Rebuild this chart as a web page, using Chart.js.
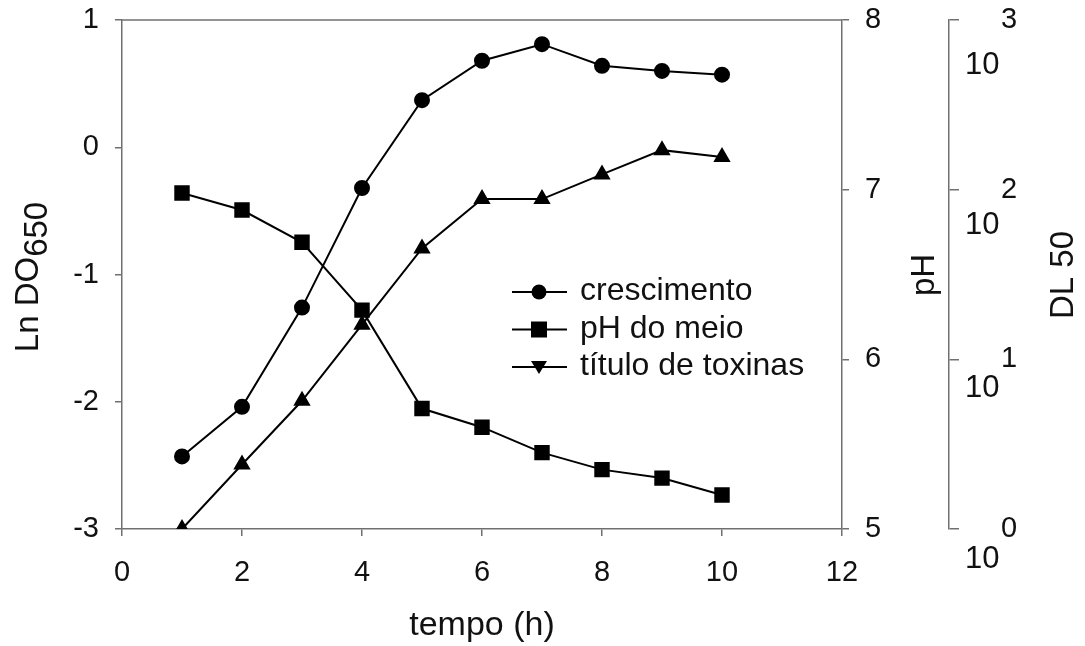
<!DOCTYPE html>
<html>
<head>
<meta charset="utf-8">
<script src="https://cdn.jsdelivr.net/npm/chart.js@4.4.1/dist/chart.umd.min.js"></script>
<style>
  html, body { margin: 0; padding: 0; background: #fff; }
  #wrap { width: 1085px; height: 646px; }
</style>
</head>
<body>
<div id="wrap"><canvas id="grafico" width="1085" height="646"></canvas></div>
<script>
const tempo = [1, 2, 3, 4, 5, 6, 7, 8, 9, 10];
const crescimento = [-2.43, -2.04, -1.26, -0.32, 0.37, 0.68, 0.81, 0.64, 0.60, 0.57];
const phMeio = [6.98, 6.88, 6.69, 6.29, 5.71, 5.60, 5.45, 5.35, 5.30, 5.20];
const toxinas = [1, 2.4, 5.7, 16, 45, 88, 88, 123, 171, 156];
const potencias = [1, 10, 100, 1000];

const FONTE = "'Liberation Sans', Arial, sans-serif";
const CINZA = '#707070';
const TEXTO = '#111';

function pontos(valores) {
  return tempo.map((t, i) => ({ x: t, y: valores[i] }));
}

function textoVertical(ctx, partes, cx, cy) {
  // partes: [texto, deslocamento da linha de base]
  const larguras = partes.map(p => ctx.measureText(p[0]).width);
  const total = larguras.reduce((a, b) => a + b, 0);
  ctx.save();
  ctx.translate(cx, cy);
  ctx.rotate(-Math.PI / 2);
  let x = -total / 2;
  partes.forEach((p, i) => {
    ctx.fillText(p[0], x, p[1]);
    x += larguras[i];
  });
  ctx.restore();
}

// eixos verticais sem folga extra em cima/embaixo
function semFolga(largura) {
  return s => {
    s.width = largura;
    s.paddingTop = 0;
    s.paddingBottom = 0;
  };
}

// moldura, títulos dos eixos, legenda e rótulos 10^n
const extras = {
  id: 'extras',
  afterDraw(chart) {
    const ctx = chart.ctx;
    const area = chart.chartArea;
    ctx.save();

    ctx.strokeStyle = CINZA;
    ctx.lineWidth = 1.5;
    ctx.beginPath();
    ctx.moveTo(area.left, area.top);
    ctx.lineTo(area.right, area.top);
    ctx.stroke();

    ctx.fillStyle = TEXTO;
    ctx.font = '33px ' + FONTE;
    ctx.textAlign = 'left';
    ctx.textBaseline = 'alphabetic';
    textoVertical(ctx, [['Ln DO', 0], ['650', 9]], 38, 277);
    textoVertical(ctx, [['pH', 0]], 934, 275);
    textoVertical(ctx, [['DL 50', 0]], 1073, 275);

    // rótulos do eixo DL 50
    const dl = chart.scales.yDL;
    const desloc = [30, 29, 36, 45];
    ctx.textBaseline = 'middle';
    potencias.forEach((v, i) => {
      const py = dl.getPixelForValue(v);
      ctx.font = '29px ' + FONTE;
      ctx.fillText(String(Math.round(Math.log10(v))), 1001, py);
      ctx.font = '31px ' + FONTE;
      ctx.fillText('10', 965, py + desloc[i]);
    });

    // legenda
    const itens = [
      { texto: 'crescimento', forma: 'circulo' },
      { texto: 'pH do meio', forma: 'quadrado' },
      { texto: 'título de toxinas', forma: 'triangulo' }
    ];
    ctx.font = '32px ' + FONTE;
    ctx.textBaseline = 'alphabetic';
    itens.forEach((it, i) => {
      const y = 292 + i * 37.5;
      ctx.strokeStyle = '#000';
      ctx.lineWidth = 2;
      ctx.beginPath();
      ctx.moveTo(512, y);
      ctx.lineTo(567, y);
      ctx.stroke();
      ctx.fillStyle = '#000';
      ctx.beginPath();
      if (it.forma === 'circulo') {
        ctx.arc(539, y, 7.5, 0, Math.PI * 2);
      } else if (it.forma === 'quadrado') {
        ctx.rect(531, y - 8, 16, 16);
      } else {
        ctx.moveTo(531, y - 6);
        ctx.lineTo(547, y - 6);
        ctx.lineTo(539, y + 7);
        ctx.closePath();
      }
      ctx.fill();
      ctx.fillStyle = TEXTO;
      ctx.fillText(it.texto, 580, y + 8);
    });
    ctx.restore();
  }
};

const fonteTicks = { family: FONTE, size: 29 };

new Chart(document.getElementById('grafico'), {
  type: 'line',
  data: {
    datasets: [
      {
        label: 'crescimento',
        data: pontos(crescimento),
        yAxisID: 'y',
        borderColor: '#000',
        backgroundColor: '#000',
        borderWidth: 2,
        pointStyle: 'circle',
        pointRadius: 7,
        tension: 0
      },
      {
        label: 'pH do meio',
        data: pontos(phMeio),
        yAxisID: 'yPH',
        borderColor: '#000',
        backgroundColor: '#000',
        borderWidth: 2,
        pointStyle: 'rect',
        pointRadius: 9.5,
        tension: 0
      },
      {
        label: 'título de toxinas',
        data: pontos(toxinas),
        yAxisID: 'yDL',
        borderColor: '#000',
        backgroundColor: '#000',
        borderWidth: 2,
        pointStyle: 'triangle',
        pointRadius: 8,
        tension: 0
      }
    ]
  },
  options: {
    responsive: false,
    animation: false,
    layout: { padding: { top: 20, left: 0, right: 0, bottom: 0 } },
    plugins: {
      legend: { display: false },
      tooltip: { enabled: false }
    },
    scales: {
      x: {
        type: 'linear',
        min: 0,
        max: 12,
        afterFit: s => { s.height = 117; s.paddingLeft = 0; s.paddingRight = 0; },
        ticks: { stepSize: 2, color: TEXTO, font: fonteTicks, padding: 20 },
        grid: { drawOnChartArea: false, tickLength: 7, color: CINZA, lineWidth: 1.5 },
        border: { color: CINZA, width: 1.5 },
        title: { display: true, text: 'tempo (h)', color: TEXTO, font: { family: FONTE, size: 34 }, padding: { top: 0, bottom: 0 } }
      },
      y: {
        position: 'left',
        min: -3,
        max: 1,
        afterFit: semFolga(122),
        ticks: { stepSize: 1, color: TEXTO, font: fonteTicks, padding: 16 },
        grid: { drawOnChartArea: false, tickLength: 7, color: CINZA, lineWidth: 1.5 },
        border: { color: CINZA, width: 1.5 }
      },
      yPH: {
        position: 'right',
        min: 5,
        max: 8,
        afterFit: semFolga(107),
        ticks: { stepSize: 1, color: TEXTO, font: fonteTicks, padding: 16 },
        grid: { drawOnChartArea: false, tickLength: 7, color: CINZA, lineWidth: 1.5 },
        border: { color: CINZA, width: 1.5 }
      },
      yDL: {
        type: 'logarithmic',
        position: 'right',
        min: 1,
        max: 1000,
        afterFit: semFolga(136),
        afterBuildTicks: s => { s.ticks = potencias.map(v => ({ value: v, major: true })); },
        ticks: { display: false },
        grid: { drawOnChartArea: false, tickLength: 10, color: CINZA, lineWidth: 1.5 },
        border: { color: CINZA, width: 1.5 }
      }
    }
  },
  plugins: [extras]
});
</script>
</body>
</html>
